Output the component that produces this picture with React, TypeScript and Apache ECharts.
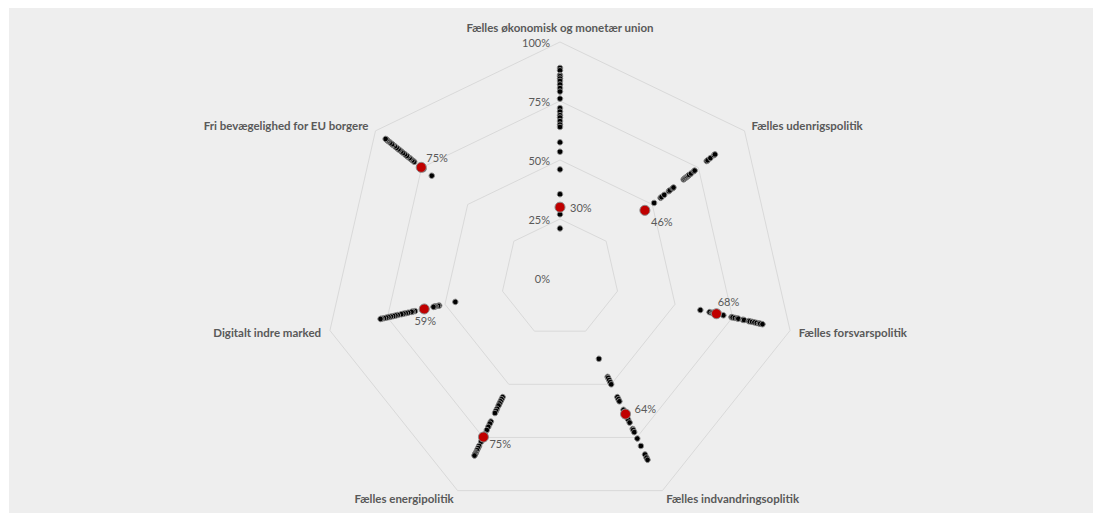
import React, { useEffect, useRef } from "react";
import * as echarts from "echarts";

const axisNames = [
  "Fælles økonomisk og monetær union",
  "Fælles udenrigspolitik",
  "Fælles forsvarspolitik",
  "Fælles indvandringsoplitik",
  "Fælles energipolitik",
  "Digitalt indre marked",
  "Fri bevægelighed for EU borgere",
];

const ringTicks = [0, 0.25, 0.5, 0.75, 1];

const okonomiskUnion = [0.89, 0.88, 0.86, 0.855, 0.845, 0.835, 0.82, 0.805, 0.79, 0.76, 0.72, 0.705, 0.69, 0.68, 0.665, 0.65, 0.64, 0.575, 0.535, 0.46, 0.355, 0.27, 0.21];
const udenrigspolitik = [0.51, 0.545, 0.55, 0.565, 0.59, 0.595, 0.61, 0.615, 0.67, 0.675, 0.68, 0.685, 0.69, 0.695, 0.7, 0.71, 0.725, 0.73, 0.795, 0.8, 0.815, 0.835, 0.84];
const forsvarspolitik = [0.61, 0.65, 0.66, 0.665, 0.67, 0.68, 0.69, 0.71, 0.745, 0.75, 0.76, 0.77, 0.775, 0.795, 0.8, 0.82, 0.825, 0.835, 0.845, 0.855, 0.865, 0.87, 0.88];
const indvandringspolitik = [0.38, 0.465, 0.47, 0.48, 0.49, 0.5, 0.56, 0.57, 0.58, 0.62, 0.63, 0.645, 0.65, 0.665, 0.68, 0.71, 0.715, 0.725, 0.755, 0.79, 0.83, 0.845, 0.855];
const energipolitik = [0.56, 0.57, 0.58, 0.59, 0.6, 0.615, 0.625, 0.635, 0.675, 0.685, 0.7, 0.715, 0.735, 0.745, 0.76, 0.77, 0.79, 0.8, 0.81, 0.82, 0.825, 0.83, 0.835];
const digitaltMarked = [0.455, 0.525, 0.53, 0.54, 0.545, 0.55, 0.6, 0.63, 0.64, 0.645, 0.66, 0.67, 0.68, 0.69, 0.705, 0.715, 0.725, 0.735, 0.745, 0.755, 0.765, 0.775, 0.78];
const friBevaegelighed = [0.695, 0.74, 0.76, 0.79, 0.8, 0.81, 0.815, 0.825, 0.83, 0.84, 0.85, 0.86, 0.87, 0.875, 0.885, 0.895, 0.905, 0.91, 0.92, 0.93, 0.935, 0.94, 0.945];

const averages = [0.3, 0.46, 0.68, 0.64, 0.748, 0.59, 0.752];

const perAxis = [okonomiskUnion, udenrigspolitik, forsvarspolitik, indvandringspolitik, energipolitik, digitaltMarked, friBevaegelighed];

// ECharts lays radar indicators out counter-clockwise; reorder to get clockwise order
const displayOrder = [0, 6, 5, 4, 3, 2, 1];

const labelPlacement: any[] = [
  { position: "right", distance: 5, offset: [0, 0] },
  { position: "bottom", distance: 1, offset: [17, 0] },
  { position: "top", distance: 3, offset: [12, 1] },
  { position: "right", distance: 4, offset: [0, -6] },
  { position: "right", distance: 1, offset: [0, 6] },
  { position: "bottom", distance: 1, offset: [1, 0] },
  { position: "right", distance: 0, offset: [0, -10] },
];

const GRAY = "#595959";
const FONT = "Lato, 'Open Sans', sans-serif";

export default function App() {
  const ref = useRef<HTMLDivElement>(null);
  useEffect(() => {
    if (!ref.current) return;
    const chart = echarts.init(ref.current, null, { renderer: "svg" });
    const cx = 560;
    const cy = 278;
    const R = 236;
    const n = okonomiskUnion.length;
    const avgOrdered = displayOrder.map((k) => averages[k]);
    const dotData = [];
    for (let i = 0; i < n; i++) {
      dotData.push({
        value: displayOrder.map((k) => perAxis[k][i]),
        symbol: "circle",
        symbolSize: 5.5,
        itemStyle: { color: "#000000", borderColor: "#8a8a8a", borderWidth: 1 },
        lineStyle: { opacity: 0, width: 0 },
      });
    }
    const fmt = (v: number) => Math.round(v * 100) + "%";
    const labelItems = averages.map((_, k) => ({
      value: avgOrdered,
      symbol: "circle",
      symbolSize: 10,
      itemStyle: { color: "rgba(0,0,0,0)", borderWidth: 0 },
      lineStyle: { opacity: 0, width: 0 },
      label: {
        show: true,
        ...labelPlacement[k],
        color: GRAY,
        fontSize: 11,
        fontFamily: FONT,
        formatter: (p: any) => {
          const d = p.dimensionIndex;
          if (d !== undefined && d !== null) return displayOrder[d] === k ? fmt(averages[k]) : "";
          return p.value === averages[k] ? fmt(averages[k]) : "";
        },
      },
    }));
    chart.setOption({
      animation: false,
      backgroundColor: "#ffffff",
      graphic: [
        {
          type: "rect",
          shape: { x: 9, y: 8, width: 1084, height: 505 },
          style: { fill: "#EEEEEE" },
          z: -10,
          silent: true,
        },
      ],
      polar: { center: [cx, cy], radius: R },
      angleAxis: { show: false, min: 0, max: 360, startAngle: 90 },
      radiusAxis: {
        type: "value",
        min: 0,
        max: 1,
        interval: 0.25,
        axisLine: { show: false },
        axisTick: { show: false },
        splitLine: { show: false },
        axisLabel: {
          color: GRAY,
          fontSize: 11,
          fontFamily: FONT,
          margin: 10,
          customValues: ringTicks,
          formatter: (v: number) => Math.round(v * 100) + "%",
        },
      },
      radar: {
        center: [cx, cy],
        radius: R,
        startAngle: 90,
        shape: "polygon",
        splitNumber: 4,
        nameGap: 9,
        indicator: displayOrder.map((k) => ({ name: axisNames[k], min: 0, max: 1 })),
        axisName: { color: GRAY, fontSize: 11.5, fontWeight: "bold", fontFamily: FONT },
        axisLine: { show: false },
        axisTick: { show: false },
        axisLabel: { show: false },
        splitLine: { lineStyle: { color: "#D9D9D9", width: 1 } },
        splitArea: { show: false },
      },
      series: [
        { type: "radar", silent: true, z: 2, data: dotData },
        {
          type: "radar",
          silent: true,
          z: 3,
          data: [
            {
              value: avgOrdered,
              symbol: "circle",
              symbolSize: 10,
              itemStyle: { color: "#C00000", borderColor: "#8a8a8a", borderWidth: 1 },
              lineStyle: { opacity: 0, width: 0 },
            },
          ],
        },
        { type: "radar", silent: true, z: 4, data: labelItems },
      ],
    });
    return () => chart.dispose();
  }, []);
  return (
    <div
      ref={ref}
      style={{ position: "absolute", left: 0, top: 0, width: 1101, height: 521 }}
    />
  );
}
